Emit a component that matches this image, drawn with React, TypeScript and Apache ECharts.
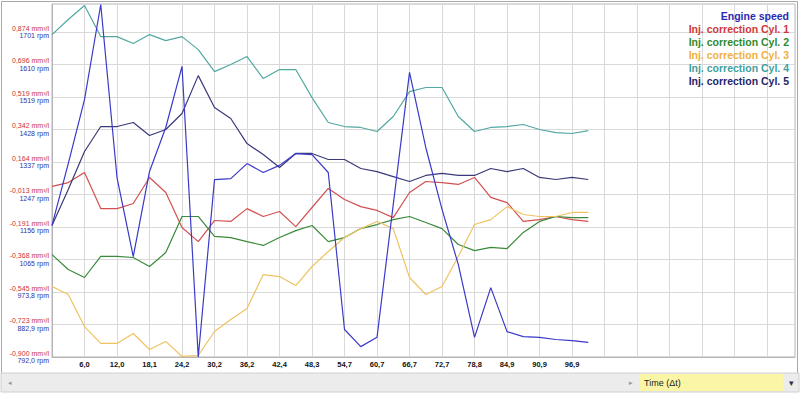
import React, { useEffect, useRef } from "react";
import * as echarts from "echarts";

// ---- data ----
const seriesNames = [
  "Engine speed",
  "Inj. correction Cyl. 1",
  "Inj. correction Cyl. 2",
  "Inj. correction Cyl. 3",
  "Inj. correction Cyl. 4",
  "Inj. correction Cyl. 5",
];

// time labels shown every second sample (index 2, 4, ... 32)
const timeLabels = ["6,0", "12,0", "18,1", "24,2", "30,2", "36,2", "42,4", "48,3", "54,7", "60,7", "66,7", "72,7", "78,8", "84,9", "90,9", "96,9"];

const mmTicks = ["-0,900", "-0,723", "-0,545", "-0,368", "-0,191", "-0,013", "0,164", "0,342", "0,519", "0,696", "0,874"];
const rpmTicks = ["792,0", "882,9", "973,8", "1065", "1156", "1247", "1337", "1428", "1519", "1610", "1701"];

// rpm
const engineSpeed = [1160, 1333, 1512, 1778, 1294, 1073, 1311, 1434, 1605, 792, 1288, 1291, 1333, 1308, 1328, 1361, 1358, 1308, 869, 821, 847, 1219, 1588, 1378, 1205, 1051, 847, 986, 863, 849, 847, 841, 838, 833];
// mm³/l
const cyl1 = [0.031, 0.052, 0.107, -0.090, -0.090, -0.062, 0.080, -0.002, -0.193, -0.270, -0.155, -0.160, -0.090, -0.133, -0.106, -0.188, -0.084, 0.020, -0.040, -0.079, -0.100, -0.139, -0.002, 0.058, 0.052, 0.042, 0.080, -0.029, -0.057, -0.160, -0.150, -0.133, -0.150, -0.160];
const cyl2 = [-0.341, -0.422, -0.466, -0.351, -0.351, -0.357, -0.406, -0.330, -0.133, -0.133, -0.242, -0.248, -0.270, -0.291, -0.248, -0.210, -0.182, -0.270, -0.248, -0.199, -0.177, -0.150, -0.133, -0.166, -0.199, -0.286, -0.319, -0.302, -0.308, -0.220, -0.160, -0.133, -0.139, -0.139];
const cyl3 = [-0.515, -0.559, -0.734, -0.826, -0.826, -0.772, -0.859, -0.815, -0.897, -0.892, -0.761, -0.695, -0.635, -0.450, -0.461, -0.510, -0.406, -0.324, -0.248, -0.199, -0.160, -0.199, -0.466, -0.559, -0.515, -0.351, -0.177, -0.150, -0.079, -0.122, -0.133, -0.133, -0.111, -0.111];
const cyl4 = [0.860, 0.942, 1.019, 0.849, 0.849, 0.811, 0.860, 0.827, 0.849, 0.778, 0.658, 0.697, 0.740, 0.620, 0.669, 0.669, 0.516, 0.380, 0.358, 0.353, 0.331, 0.413, 0.549, 0.571, 0.571, 0.413, 0.331, 0.353, 0.358, 0.369, 0.342, 0.325, 0.320, 0.336];
const cyl5 = [-0.182, 0.014, 0.222, 0.358, 0.358, 0.380, 0.309, 0.342, 0.429, 0.636, 0.462, 0.402, 0.265, 0.205, 0.134, 0.211, 0.211, 0.178, 0.178, 0.129, 0.112, 0.085, 0.058, 0.091, 0.102, 0.091, 0.091, 0.129, 0.112, 0.129, 0.080, 0.069, 0.080, 0.069];

const lineColors = ["#3a3ac8", "#d45050", "#3a8a3a", "#f0c262", "#52a8a2", "#3a3a7a"];
const legendColors = ["#2a2ab0", "#d03838", "#2e8a2e", "#f0b040", "#3fa0a0", "#24246a"];

const FONT = "Arial, 'Liberation Sans', sans-serif";

export default function App() {
  const ref = useRef<HTMLDivElement>(null);

  useEffect(() => {
    if (!ref.current) return;
    const chart = echarts.init(ref.current, undefined, { renderer: "svg" });

    const ySpan = 10.862; // number of tick steps visible
    const mmMin = -0.9, mmStep = 0.1774;
    const rpmMin = 792, rpmStep = 90.9;

    const cylSeries = [cyl1, cyl2, cyl3, cyl4, cyl5];

    const series: any[] = [
      {
        name: seriesNames[0],
        type: "line",
        yAxisIndex: 2,
        showSymbol: false,
        data: engineSpeed.map((v, i) => [i, v]),
        lineStyle: { color: lineColors[0], width: 1.2 },
        itemStyle: { color: lineColors[0] },
        z: 6,
      },
      ...cylSeries.map((arr, s) => ({
        name: seriesNames[s + 1],
        type: "line",
        yAxisIndex: 1,
        showSymbol: false,
        data: arr.map((v, i) => [i, v]),
        lineStyle: { color: lineColors[s + 1], width: 1.2 },
        itemStyle: { color: lineColors[s + 1] },
      })),
    ];

    const legendTexts = seriesNames.map((n, i) => ({
      type: "text",
      right: 11,
      top: 10 + i * 13,
      style: {
        text: n,
        fill: legendColors[i],
        font: `bold 10.5px ${FONT}`,
        textAlign: "right",
      },
      z: 100,
    }));

    chart.setOption({
      animation: false,
      backgroundColor: "#ffffff",
      grid: {
        left: 52,
        right: 5,
        top: 4,
        bottom: 36,
        show: true,
        borderColor: "#b4b4b4",
        borderWidth: 1,
      },
      xAxis: {
        type: "value",
        min: 0,
        max: 45.72,
        interval: 2,
        axisLine: { show: true, lineStyle: { color: "#b4b4b4" } },
        axisTick: { show: false },
        splitLine: { show: true, lineStyle: { color: "#d9d9d9", width: 1 } },
        axisLabel: {
          margin: 3,
          color: "#111",
          fontWeight: "bold",
          fontSize: 7.5,
          fontFamily: FONT,
          showMaxLabel: false,
          formatter: (v: number) => {
            const i = Math.round(v);
            if (Math.abs(v - i) > 1e-6 || i % 2 !== 0) return "";
            const idx = i / 2 - 1;
            return idx >= 0 && idx < timeLabels.length ? timeLabels[idx] : "";
          },
        },
      },
      yAxis: [
        {
          type: "value",
          min: 0,
          max: ySpan,
          interval: 1,
          axisLine: { show: true, lineStyle: { color: "#b4b4b4" } },
          axisTick: { show: false },
          splitLine: { show: true, lineStyle: { color: "#d9d9d9", width: 1 } },
          axisLabel: {
            margin: 3,
            align: "right",
            showMaxLabel: false,
            formatter: (v: number) => {
              const i = Math.round(v);
              if (Math.abs(v - i) > 1e-6 || i > 10) return "";
              return `{r|${mmTicks[i]} mm³/l}\n{b|${rpmTicks[i]} rpm}`;
            },
            rich: {
              r: { color: "#cc3333", fontSize: 7, fontFamily: FONT, lineHeight: 7.5, align: "right" },
              b: { color: "#3333a0", fontSize: 7, fontFamily: FONT, lineHeight: 7.5, align: "right" },
            },
          },
        },
        {
          type: "value",
          show: false,
          min: mmMin,
          max: mmMin + ySpan * mmStep,
          splitLine: { show: false },
        },
        {
          type: "value",
          show: false,
          min: rpmMin,
          max: rpmMin + ySpan * rpmStep,
          splitLine: { show: false },
        },
      ],
      series,
      graphic: [
        // outer frame
        {
          type: "rect",
          shape: { x: 1.5, y: 1.5, width: 796, height: 372 },
          style: { fill: "none", stroke: "#a8a8a8", lineWidth: 1 },
          silent: true,
          z: 0,
        },
        // bottom bar
        {
          type: "rect",
          shape: { x: 1, y: 373, width: 798, height: 19 },
          style: { fill: "#ececec", stroke: "#d0d0d0", lineWidth: 1 },
          silent: true,
        },
        {
          type: "rect",
          shape: { x: 640, y: 374, width: 143, height: 17 },
          style: { fill: "#fbf6a6" },
          silent: true,
        },
        {
          type: "text",
          x: 644,
          y: 382.5,
          style: { text: "Time (Δt)", fill: "#222", font: `9px ${FONT}`, textVerticalAlign: "middle" },
        },
        {
          type: "text",
          x: 791,
          y: 382.5,
          style: { text: "▾", fill: "#333", font: `9px ${FONT}`, textAlign: "center", textVerticalAlign: "middle" },
        },
        {
          type: "text",
          x: 631,
          y: 382.5,
          style: { text: "▸", fill: "#999", font: `7px ${FONT}`, textAlign: "center", textVerticalAlign: "middle" },
        },
        {
          type: "text",
          x: 10,
          y: 382.5,
          style: { text: "◂", fill: "#999", font: `7px ${FONT}`, textAlign: "center", textVerticalAlign: "middle" },
        },
        ...legendTexts,
      ],
    });

    return () => chart.dispose();
  }, []);

  return (
    <div
      ref={ref}
      style={{ position: "absolute", left: 0, top: 0, width: 800, height: 393 }}
    />
  );
}
